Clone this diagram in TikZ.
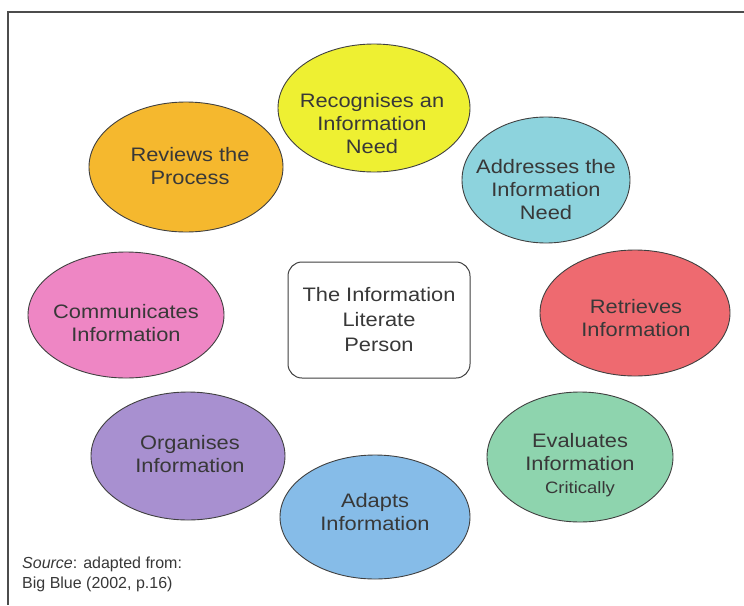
\documentclass[tikz,border=0pt]{standalone}
\usepackage{fontspec}
\setmainfont{Liberation Sans}
\newfontfamily\widesans[FakeStretch=1.12]{Liberation Sans}
\usetikzlibrary{shapes.geometric}
\definecolor{cYellow}{HTML}{EEF032}
\definecolor{cCyan}{HTML}{8DD3DD}
\definecolor{cRed}{HTML}{EE6A70}
\definecolor{cGreen}{HTML}{8ED4AE}
\definecolor{cBlue}{HTML}{86BCE8}
\definecolor{cPurple}{HTML}{A890D0}
\definecolor{cPink}{HTML}{EE86C4}
\definecolor{cOrange}{HTML}{F5B82E}
\definecolor{cText}{HTML}{383838}
\begin{document}
\begin{tikzpicture}[x=1pt,y=-1pt,
  blob/.style={ellipse, draw=black!75, line width=0.9pt, inner sep=0pt},
  blobtext/.style={align=center, text=cText, inner sep=0pt,
    font=\widesans\fontsize{19.5}{23}\selectfont},
  centre/.style={rectangle, rounded corners=14pt, draw=black!75, line width=1pt, fill=white,
    align=center, text=cText, font=\widesans\fontsize{19.5}{25}\selectfont,
    minimum width=182pt, minimum height=116pt},
  frame/.style={draw=black!70, line width=2pt},
  srcnote/.style={anchor=north west, align=left, text=cText, inner sep=0pt,
    font=\fontsize{16}{20}\selectfont}]
\useasboundingbox (0,0) rectangle (744,605);
\fill[white] (0,0) rectangle (744,605);
\coordinate (tl) at (8,12);
\coordinate (tr) at (744,12);
\coordinate (bl) at (8,605);
\draw[frame] (tr) -- (tl) -- (bl);

\node[blob, fill=cYellow, minimum width=192pt, minimum height=128pt] (recog) at (374,108) {};
\node[blob, fill=cCyan, minimum width=168pt, minimum height=126pt] (addr) at (546,180) {};
\node[blob, fill=cRed, minimum width=190pt, minimum height=126pt] (retr) at (635,313) {};
\node[blob, fill=cGreen, minimum width=186pt, minimum height=130pt] (eval) at (580,457) {};
\node[blob, fill=cBlue, minimum width=190pt, minimum height=124pt] (adapt) at (375,517) {};
\node[blob, fill=cPurple, minimum width=194pt, minimum height=128pt] (org) at (188,456) {};
\node[blob, fill=cPink, minimum width=196pt, minimum height=126pt] (comm) at (126,315) {};
\node[blob, fill=cOrange, minimum width=194pt, minimum height=130pt] (rev) at (186,167) {};

\node[blobtext] (recogT) at (372,124) {Recognises an\\Information\\Need};
\node[blobtext] (addrT) at (546,190) {Addresses the\\Information\\Need};
\node[blobtext] (retrT) at (636,318) {Retrieves\\Information};
\node[blobtext] (evalT) at (580,465) {Evaluates\\Information\\{\fontsize{16.5}{20}\selectfont Critically}};
\node[blobtext] (adaptT) at (375,512) {Adapts\\Information};
\node[blobtext] (orgT) at (190,454) {Organises\\Information};
\node[blobtext] (commT) at (126,323) {Communicates\\Information};
\node[blobtext] (revT) at (190,166) {Reviews the\\Process};

\node[centre] (person) at (379,320) {The Information\\Literate\\Person};

\node[srcnote] (src) at (22,557) {\textit{Source}: adapted from:\\Big Blue (2002, p.16)};
\end{tikzpicture}
\end{document}
